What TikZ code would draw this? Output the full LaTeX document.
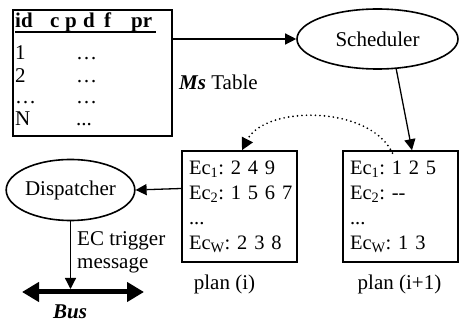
\documentclass[tikz,border=0pt]{standalone}
\usepackage{fontspec}
\setmainfont{Liberation Serif}
\usetikzlibrary{arrows.meta,shapes.geometric,calc}
\frenchspacing
\begin{document}
\begin{tikzpicture}[x=1pt,y=-1pt,
  every node/.style={font=\fontsize{21}{25}\selectfont\frenchspacing, inner sep=0pt},
  boxnode/.style={draw, line width=1.6pt, rectangle},
  ellnode/.style={draw, ellipse, line width=1.6pt, inner sep=0pt},
  arr/.style={line width=1.3pt, -{Triangle[length=11pt,width=11pt]}},
  dotarr/.style={line width=1.9pt, line cap=round, dash pattern=on 0pt off 4.5pt, -{Triangle[length=12pt,width=12pt]}},
  busarrow/.style={line width=5pt, {Triangle[length=17pt,width=19pt]}-{Triangle[length=17pt,width=19pt]}},
  txt/.style={anchor=base west},
  hd/.style={anchor=base west, font=\fontsize{21}{25}\selectfont\bfseries},
  planbox/.style={boxnode, minimum width=115pt, minimum height=111pt, text width=101pt, inner xsep=7pt, align=left, font=\fontsize{20.5}{25}\selectfont\frenchspacing}
]
\useasboundingbox (0,0) rectangle (459,323);

% Ms table
\node[boxnode, minimum width=159pt, minimum height=126pt] (table) at (92.5,73) {};
\node[hd] (hid) at (15,28) {id};
\node[hd] (hc) at (50,28) {c};
\node[hd] (hp) at (65,28) {p};
\node[hd] (hdd) at (83,28) {d};
\node[hd] (hf) at (104,28) {f};
\node[hd] (hpr) at (131,28) {pr};
\draw[line width=2pt] ($(hid.base west)+(0,4.5)$) -- ($(hpr.base east)+(4,4.5)$);
\node[txt] (r1) at (15,60) {1};
\node[txt] (r2) at (15,83) {2};
\node[txt] (r3) at (15,104) {…};
\node[txt] (r4) at (15,126) {N};
\node[txt] (c1) at (76,60) {…};
\node[txt] (c2) at (76,83) {…};
\node[txt] (c3) at (76,104) {…};
\node[txt] (c4) at (76,126) {...};
\node[txt] (mst) at (179,90) {\textbf{\textit{Ms}} Table};

% Scheduler
\node[ellnode, minimum width=161pt, minimum height=60pt] (sched) at (377.5,39) {Scheduler};

% plans
\node[planbox] (p1) at (239.5,206.5)
  {\mbox{Ec\textsubscript{1}: 2 4 9}\\\mbox{Ec\textsubscript{2}: 1 5 6 7}\\...\\\mbox{Ec\textsubscript{W}: 2 3 8}};
\node[planbox] (p2) at (400.5,206.5)
  {\mbox{Ec\textsubscript{1}: 1 2 5}\\\mbox{Ec\textsubscript{2}: -{}-}\\...\\\mbox{Ec\textsubscript{W}: 1 3}};
\node[anchor=base] (l1) at (224.5,290) {plan (i)};
\node[anchor=base] (l2) at (399.5,290) {plan (i+1)};

% Dispatcher
\node[ellnode, minimum width=125pt, minimum height=61pt] (disp) at (70.5,190) {Dispatcher};
\node[txt] (ec1) at (77,246) {EC trigger};
\node[txt] (ec2) at (77,269) {message};

% Bus
\coordinate (busL) at (22,292);
\coordinate (busR) at (144,292);
\draw[busarrow] (busL) -- (busR);
\node[anchor=base] (buslbl) at (70,319) {\textbf{\textit{Bus}}};

% connectors
\draw[arr] (table.east |- sched.west) -- (sched.west);
\draw[arr] (sched.-58) -- ($(p2.north)+(11.5,0)$);
\draw[dotarr] ($(p2.north)+(-8,3)$) .. controls (370,105) and (265,105) .. ($(p1.north)+(2.5,0)$);
\draw[arr] ($(p1.west)+(0,-18)$) -- (disp.east);
\draw[arr] (disp.south) -- ($(disp.south |- busL)+(0,-3)$);
\end{tikzpicture}
\end{document}
